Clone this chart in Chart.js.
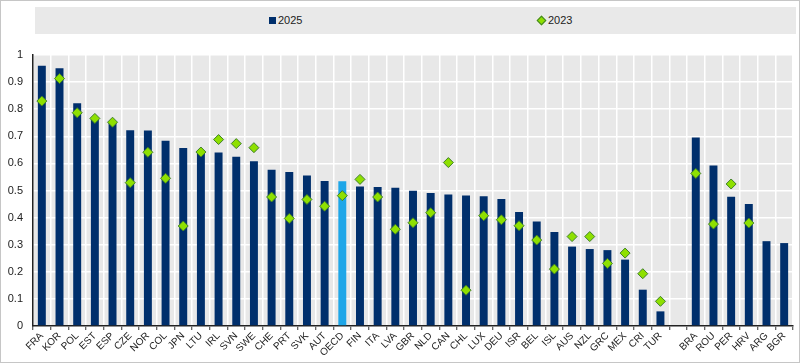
<!DOCTYPE html>
<html>
<head>
<meta charset="utf-8">
<script src="https://cdn.jsdelivr.net/npm/chart.js@4.4.1/dist/chart.umd.min.js"></script>
<style>
    body { margin: 0; background: #fff; }
    .wrap {
        position: relative;
        width: 800px;
        height: 363px;
        box-sizing: border-box;
        border: 1px solid #c6c6c6;
        font-family: "Liberation Sans", Arial, sans-serif;
    }
    .legend {
        position: absolute;
        left: 34px;
        top: 6px;
        width: 761px;
        height: 27px;
        background: #e9e9e9;
        font-size: 11px;
        color: #222;
    }
    .legend span { position: absolute; top: 7px; }
    .sq { display: inline-block; width: 7px; height: 7px; background: #002f6c; margin-right: 2px; }
    .dia {
        display: inline-block; width: 5px; height: 5px; background: #8ee000;
        border: 1px solid #3f7f2a; transform: rotate(45deg); margin-right: 3px; margin-left: 1px;
    }
    canvas { position: absolute; left: 0; top: 0; }
</style>
</head>
<body>
<div class="wrap">
    <canvas id="chart" width="798" height="361"></canvas>
    <div class="legend">
        <span style="left: 234px;"><i class="sq"></i>2025</span>
        <span style="left: 502px;"><i class="dia"></i>2023</span>
    </div>
</div>
<script>
// Negara (kosong = jarak antara OECD dan non-OECD)
const countries = ['FRA', 'KOR', 'POL', 'EST', 'ESP', 'CZE', 'NOR', 'COL', 'JPN', 'LTU',
    'IRL', 'SVN', 'SWE', 'CHE', 'PRT', 'SVK', 'AUT', 'OECD', 'FIN', 'ITA',
    'LVA', 'GBR', 'NLD', 'CAN', 'CHL', 'LUX', 'DEU', 'ISR', 'BEL', 'ISL',
    'AUS', 'NZL', 'GRC', 'MEX', 'CRI', 'TUR', '', 'BRA', 'ROU', 'PER', 'HRV', 'ARG', 'BGR'];

const values2025 = [0.960, 0.951, 0.822, 0.762, 0.752, 0.722, 0.721, 0.684, 0.657, 0.644,
    0.640, 0.625, 0.608, 0.577, 0.568, 0.555, 0.535, 0.534, 0.515, 0.513,
    0.510, 0.499, 0.491, 0.485, 0.482, 0.479, 0.469, 0.421, 0.386, 0.347,
    0.293, 0.284, 0.280, 0.245, 0.134, 0.054, null, 0.696, 0.592, 0.477, 0.450, 0.313, 0.306];

const values2023 = [0.830, 0.913, 0.787, 0.766, 0.752, 0.529, 0.641, 0.545, 0.369, 0.642,
    0.688, 0.673, 0.658, 0.476, 0.397, 0.467, 0.442, 0.481, 0.541, 0.476,
    0.357, 0.381, 0.418, 0.603, 0.132, 0.407, 0.392, 0.370, 0.317, 0.210,
    0.330, 0.330, 0.231, 0.269, 0.193, 0.091, null, 0.563, 0.376, 0.524, 0.380, null, null];

const yTicks = [0, 0.1, 0.2, 0.3, 0.4, 0.5, 0.6, 0.7, 0.8, 0.9, 1];

// Warna batang: OECD biru muda
const barColors = countries.map(c => c === 'OECD' ? '#1ea6e8' : '#002f6c');

// Latar abu-abu area grafik
const plotBg = {
    id: 'plotBg',
    beforeDraw(chart) {
        const a = chart.chartArea;
        const ctx = chart.ctx;
        ctx.save();
        ctx.fillStyle = '#e8e8e8';
        ctx.fillRect(a.left, a.top, a.right - a.left, a.bottom - a.top);
        ctx.restore();
    }
};

new Chart(document.getElementById('chart'), {
    type: 'bar',
    data: {
        labels: countries,
        datasets: [
            {
                type: 'line',
                label: '2023',
                data: values2023,
                showLine: false,
                pointStyle: 'rectRot',
                pointRadius: 5,
                pointBackgroundColor: '#8ee000',
                pointBorderColor: '#3f7f2a',
                pointBorderWidth: 1,
                order: 0
            },
            {
                label: '2025',
                data: values2025,
                backgroundColor: barColors,
                barPercentage: 0.45,
                categoryPercentage: 1,
                order: 1
            }
        ]
    },
    options: {
        responsive: false,
        animation: false,
        layout: { padding: { left: 0, right: 1, top: 54, bottom: 0 } },
        scales: {
            x: {
                grid: {
                    offset: true,
                    color: '#ffffff',
                    lineWidth: 1.5,
                    tickColor: '#333',
                    tickLength: 4,
                    tickWidth: 1
                },
                border: { color: '#222', width: 1.5 },
                ticks: {
                    autoSkip: false,
                    maxRotation: 45,
                    minRotation: 45,
                    padding: 0,
                    color: '#222',
                    font: { family: 'Liberation Sans', size: 10 }
                },
                afterFit: s => { s.height = 36; }
            },
            y: {
                min: 0,
                max: 1,
                afterBuildTicks: s => { s.ticks = yTicks.map(v => ({ value: v })); },
                grid: { color: '#ffffff', lineWidth: 1.5, drawTicks: false },
                border: { color: '#222', width: 1.5 },
                ticks: {
                    padding: 10,
                    color: '#222',
                    font: { family: 'Liberation Sans', size: 11 },
                    callback: v => String(Math.round(v * 10) / 10)
                },
                afterFit: s => { s.width = 32; }
            }
        },
        plugins: {
            legend: { display: false },
            tooltip: { enabled: false }
        }
    },
    plugins: [plotBg]
});
</script>
</body>
</html>
